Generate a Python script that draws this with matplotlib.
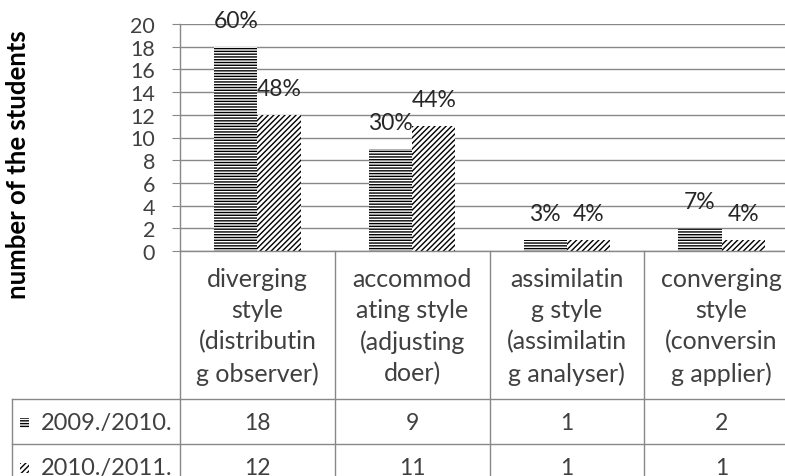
import matplotlib
matplotlib.use("Agg")
import matplotlib.pyplot as plt
import matplotlib.transforms as mtransforms
from matplotlib.patches import Rectangle

categories = ["diverging\nstyle\n(distributin\ng observer)",
              "accommod\nating style\n(adjusting\ndoer)",
              "assimilatin\ng style\n(assimilatin\ng analyser)",
              "converging\nstyle\n(conversin\ng applier)"]
series_names = ["2009./2010.", "2010./2011."]
values_2009 = [18, 9, 1, 2]
values_2010 = [12, 11, 1, 1]
pct_2009 = ["60%", "30%", "3%", "7%"]
pct_2010 = ["48%", "44%", "4%", "4%"]
y_ticks = [0, 2, 4, 6, 8, 10, 12, 14, 16, 18, 20]

plt.rcParams['font.family'] = ['Lato', 'DejaVu Sans']
plt.rcParams['hatch.linewidth'] = 1.0

W, H = 785, 477
fig = plt.figure(figsize=(W / 100, H / 100), dpi=100)
left_px, right_px, top_px, bot_px = 180, 799, 25, 252
ax = fig.add_axes([left_px / W, 1 - bot_px / H, (right_px - left_px) / W, (bot_px - top_px) / H])

grid_c = "#888888"
txt_c = "#404040"

n = len(categories)
xs = list(range(n))
bw = 0.28
hatches = ['------', '//////']
for i, (vals, pcts) in enumerate([(values_2009, pct_2009), (values_2010, pct_2010)]):
    off = (i - 0.5) * bw
    ax.bar([x + off for x in xs], vals, width=bw, color="white", edgecolor="black",
           linewidth=0, hatch=hatches[i], zorder=3)
    for x, v, p in zip(xs, vals, pcts):
        ax.annotate(p, (x + off, v), xytext=(0, 19), textcoords="offset points",
                    ha="center", va="center", fontsize=16.5, color="#262626", zorder=4)

ax.set_xlim(-0.5, n - 0.5)
ax.set_ylim(0, 20)
ax.set_yticks(y_ticks)
ax.set_xticks([])
ax.tick_params(axis='y', length=6, color=grid_c, labelsize=15.5, labelcolor=txt_c, pad=12)
ax.grid(axis='y', color=grid_c, linewidth=1.0, zorder=0)
for s in ['top', 'right']:
    ax.spines[s].set_visible(False)
for s in ['left', 'bottom']:
    ax.spines[s].set_color(grid_c)
    ax.spines[s].set_linewidth(1.0)
    ax.spines[s].set_zorder(5)

# data table
trans = mtransforms.blended_transform_factory(ax.transData, ax.transAxes)
def ay(px):
    return (bot_px - px) / (bot_px - top_px)

px_per_unit = (right_px - left_px) / n
def dx(px):
    return (px - left_px) / px_per_unit - 0.5

row_tops = [400, 445, 490]
line_kw = dict(color=grid_c, linewidth=1.0, clip_on=False, transform=trans)
for k in range(n + 1):
    ax.plot([k - 0.5, k - 0.5], [0, ay(row_tops[-1])], **line_kw)
for r in row_tops:
    ax.plot([dx(12), n - 0.5], [ay(r), ay(r)], **line_kw)
ax.plot([dx(12), dx(12)], [ay(row_tops[0]), ay(row_tops[-1])], **line_kw)

for x, c in zip(xs, categories):
    ax.text(x, ay(327), c, transform=trans, ha="center", va="center", fontsize=18,
            color=txt_c, linespacing=1.42, clip_on=False)

for i, (name, vals) in enumerate([(series_names[0], values_2009), (series_names[1], values_2010)]):
    yc = (row_tops[i] + row_tops[i + 1]) / 2 + 1
    for x, v in zip(xs, vals):
        ax.text(x, ay(yc), str(v), transform=trans, ha="center", va="center",
                fontsize=16.5, color=txt_c, clip_on=False)
    ax.text(dx(41), ay(yc), name, transform=trans, ha="left", va="center",
            fontsize=17, color=txt_c, clip_on=False)
    key = Rectangle((dx(20), ay(yc + 5)), dx(29) - dx(20), ay(yc - 5) - ay(yc + 5),
                    transform=trans, facecolor="white", edgecolor="black", linewidth=0,
                    hatch=hatches[i], clip_on=False)
    ax.add_patch(key)

fig.text(18 / W, 1 - 165 / H, "number of the students", rotation=90, ha="center",
         va="center", fontsize=18.5, fontweight="bold", color="black")

fig.savefig("out.png", dpi=100)
